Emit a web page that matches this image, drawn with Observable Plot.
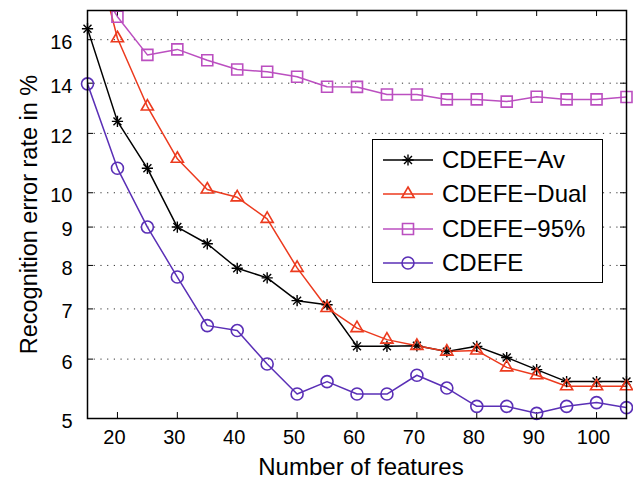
<!DOCTYPE html>
<html>
<head>
<meta charset="utf-8">
<script src="https://cdn.jsdelivr.net/npm/d3@7"></script>
<script src="https://cdn.jsdelivr.net/npm/@observablehq/plot@0.6"></script>
<style>
  html, body { margin: 0; padding: 0; background: #fff; }
  #wrap { position: relative; width: 633px; height: 480px; font-family: "Liberation Sans", Arial, Helvetica, sans-serif; }
  #legend { position: absolute; background: #fff; border: 1.5px solid #000; box-sizing: border-box; }
  .entry { position: absolute; left: 0; height: 30px; display: flex; align-items: center; }
  .entry span { font-size: 24px; color: #000; margin-left: 8px; white-space: nowrap; }
</style>
</head>
<body>
<div id="wrap"></div>
<script>
const features = [15, 20, 25, 30, 35, 40, 45, 50, 55, 60, 65, 70, 75, 80, 85, 90, 95, 100, 105];
const cdefeAv   = [16.55, 12.45, 10.78, 9.0, 8.55, 7.93, 7.70, 7.18, 7.09, 6.24, 6.24, 6.25, 6.14, 6.24, 6.03, 5.81, 5.60, 5.60, 5.60];
const cdefeDual = [23.0, 16.07, 13.03, 11.1, 10.1, 9.86, 9.23, 7.94, 7.02, 6.60, 6.37, 6.25, 6.14, 6.16, 5.85, 5.71, 5.52, 5.52, 5.52];
const cdefe95   = [20.0, 17.17, 15.27, 15.53, 15.02, 14.6, 14.5, 14.28, 13.85, 13.84, 13.52, 13.52, 13.32, 13.32, 13.23, 13.43, 13.32, 13.32, 13.42];
const cdefe     = [13.97, 10.78, 9.0, 7.72, 6.65, 6.55, 5.91, 5.39, 5.60, 5.39, 5.39, 5.71, 5.49, 5.19, 5.19, 5.08, 5.19, 5.25, 5.17];

const seriesNames = ["CDEFE\u2212Av", "CDEFE\u2212Dual", "CDEFE\u221295%", "CDEFE"];
const seriesColors = ["#000000", "#ec3a1e", "#bb4fc0", "#5a2fb6"];
const xTicks = [20, 30, 40, 50, 60, 70, 80, 90, 100];
const yTicks = [5, 6, 7, 8, 9, 10, 12, 14, 16];
const xDomain = [15, 105];
const yDomain = [5, 17.5];
const xLabel = "Number of features";
const yLabel = "Recognition error rate in %";

const W = 633, H = 480;
const mL = 87, mR = 7, mT = 10, mB = 62;
const innerW = W - mL - mR, innerH = H - mT - mB;

const allSeries = [cdefeAv, cdefeDual, cdefe95, cdefe];
const rows = [];
allSeries.forEach((vals, i) => vals.forEach((v, j) => rows.push({series: seriesNames[i], x: features[j], y: v})));
const sub = name => rows.filter(d => d.series === name);
const inDomain = d => d.y <= yDomain[1];

const font = "'Liberation Sans', Arial, Helvetica, sans-serif";
const lineOpts = (i) => ({x: "x", y: "y", stroke: seriesColors[i], strokeWidth: 1.5, clip: true});

const chart = Plot.plot({
  width: W, height: H,
  marginLeft: mL, marginRight: mR, marginTop: mT, marginBottom: mB,
  style: {fontFamily: font, fontSize: "20px", background: "#fff", color: "#000"},
  x: {domain: xDomain},
  y: {type: "log", domain: yDomain},
  marks: [
    Plot.ruleY(yTicks.filter(t => t > yDomain[0]), {y: d => d, stroke: "#333", strokeWidth: 1, strokeDasharray: "1.2,5.5"}),
    // inward ticks
    Plot.tickX(xTicks, {x: d => d, insetTop: innerH - 6, stroke: "#000", strokeWidth: 1}),
    Plot.tickX(xTicks, {x: d => d, insetBottom: innerH - 6, stroke: "#000", strokeWidth: 1}),
    Plot.tickY(yTicks, {y: d => d, insetRight: innerW - 6, stroke: "#000", strokeWidth: 1}),
    Plot.tickY(yTicks, {y: d => d, insetLeft: innerW - 6, stroke: "#000", strokeWidth: 1}),
    // series lines
    Plot.line(sub(seriesNames[0]), lineOpts(0)),
    Plot.line(sub(seriesNames[1]), lineOpts(1)),
    Plot.line(sub(seriesNames[2]), lineOpts(2)),
    Plot.line(sub(seriesNames[3]), lineOpts(3)),
    // markers
    Plot.dot(sub(seriesNames[0]).filter(inDomain), {x: "x", y: "y", symbol: "plus", r: 3.7, stroke: seriesColors[0], strokeWidth: 1.4}),
    Plot.dot(sub(seriesNames[0]).filter(inDomain), {x: "x", y: "y", symbol: "times", r: 3.7, stroke: seriesColors[0], strokeWidth: 1.4}),
    Plot.dot(sub(seriesNames[1]).filter(inDomain), {x: "x", y: "y", symbol: "triangle2", r: 5.8, stroke: seriesColors[1], strokeWidth: 1.6, fill: "none"}),
    Plot.dot(sub(seriesNames[2]).filter(inDomain), {x: "x", y: "y", symbol: "square2", r: 7, stroke: seriesColors[2], strokeWidth: 1.6, fill: "none"}),
    Plot.dot(sub(seriesNames[3]).filter(inDomain), {x: "x", y: "y", symbol: "circle", r: 6, stroke: seriesColors[3], strokeWidth: 1.6, fill: "none"}),
    Plot.frame({stroke: "#000", strokeWidth: 1.5}),
    // axes
    Plot.axisX(xTicks, {tickSize: 0, tickPadding: 11, dx: -3, fontSize: 20, label: null}),
    Plot.axisY(yTicks, {tickSize: 0, tickPadding: 15, dy: 3, fontSize: 20, tickFormat: d => String(d), label: null}),
    Plot.text([xLabel], {text: d => d, frameAnchor: "bottom", textAnchor: "middle", lineAnchor: "middle", dy: 49, dx: 4, fontSize: 24, fill: "#000"}),
    Plot.text([yLabel], {text: d => d, frameAnchor: "left", textAnchor: "middle", lineAnchor: "middle", rotate: -90, dx: -58, fontSize: 23.5, fill: "#000"})
  ]
});

const wrap = document.getElementById("wrap");
chart.style.position = "absolute";
chart.style.left = "0px";
chart.style.top = "0px";
wrap.appendChild(chart);

// Legend (HTML overlay drawn with d3 symbols)
const legend = document.createElement("div");
legend.id = "legend";
Object.assign(legend.style, {left: "372px", top: "139px", width: "231px", height: "144px"});
const symbolDefs = [
  {types: [d3.symbolPlus, d3.symbolTimes], size: Math.PI * 3.7 * 3.7, sw: 1.4},
  {types: [d3.symbolTriangle2], size: Math.PI * 5.8 * 5.8, sw: 1.6},
  {types: [d3.symbolSquare2], size: Math.PI * 7 * 7, sw: 1.6},
  {types: [d3.symbolCircle], size: Math.PI * 6 * 6, sw: 1.6}
];
const entryCenters = [21, 55.5, 90.3, 124.3];
seriesNames.forEach((name, i) => {
  const e = document.createElement("div");
  e.className = "entry";
  e.style.top = (entryCenters[i] - 15 - 1.5) + "px";
  e.style.left = "9px";
  const svg = d3.create("svg").attr("width", 52).attr("height", 30);
  svg.append("line").attr("x1", 1).attr("x2", 51).attr("y1", 15).attr("y2", 15)
    .attr("stroke", seriesColors[i]).attr("stroke-width", 1.5);
  symbolDefs[i].types.forEach(t => {
    svg.append("path").attr("d", d3.symbol(t, symbolDefs[i].size)())
      .attr("transform", "translate(26,15)")
      .attr("fill", "none").attr("stroke", seriesColors[i]).attr("stroke-width", symbolDefs[i].sw);
  });
  e.appendChild(svg.node());
  const s = document.createElement("span");
  s.textContent = name;
  e.appendChild(s);
  legend.appendChild(e);
});
wrap.appendChild(legend);
</script>
</body>
</html>
